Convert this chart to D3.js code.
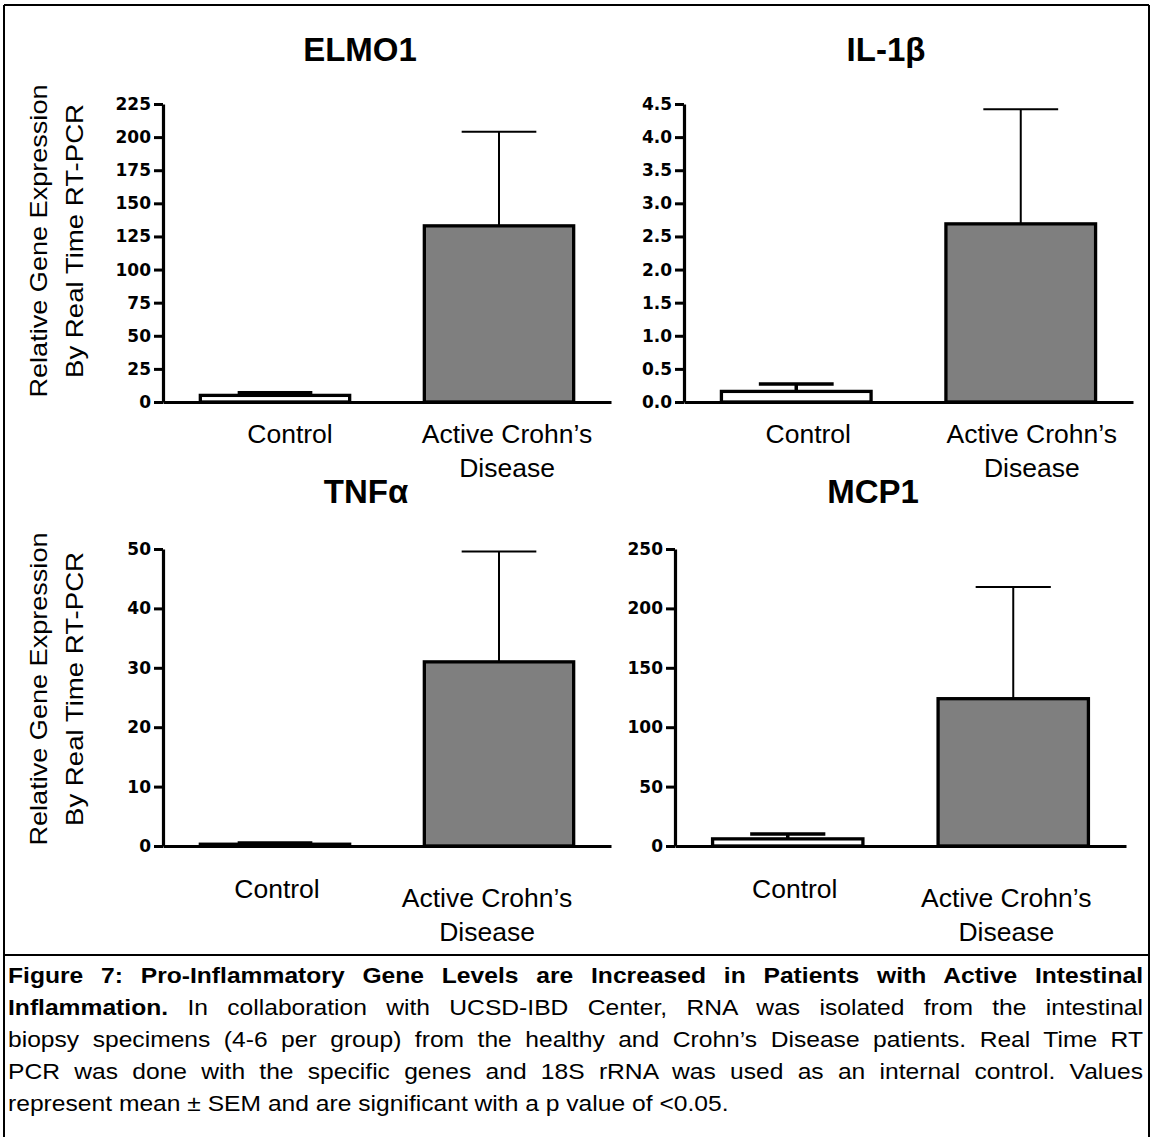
<!DOCTYPE html>
<html>
<head>
<meta charset="utf-8">
<script src="https://cdn.jsdelivr.net/npm/d3@7"></script>
<style>
  html, body { margin: 0; padding: 0; background: #ffffff; }
  svg { display: block; }
</style>
</head>
<body>
<script>
// ---------------- DATA ----------------
const categories = ["Control", "Active Crohn’s Disease"];
const genes = ["ELMO1", "IL-1β", "TNFα", "MCP1"];

const elmo1Mean = [5, 133];
const elmo1Sem  = [2, 71];
const il1bMean  = [0.16, 2.69];
const il1bSem   = [0.11, 1.73];
const tnfaMean  = [0.3, 31];
const tnfaSem   = [0.2, 18.6];
const mcp1Mean  = [6, 124];
const mcp1Sem   = [4, 94];

const elmo1Ticks = [0, 25, 50, 75, 100, 125, 150, 175, 200, 225];
const il1bTicks  = [0, 0.5, 1.0, 1.5, 2.0, 2.5, 3.0, 3.5, 4.0, 4.5];
const tnfaTicks  = [0, 10, 20, 30, 40, 50];
const mcp1Ticks  = [0, 50, 100, 150, 200, 250];

const yLabelLines = ["Relative Gene Expression", "By Real Time RT-PCR"];

const captionLines = [
  [{b: true, t: "Figure 7: Pro-Inflammatory Gene Levels are Increased in Patients with Active Intestinal"}],
  [{b: true, t: "Inflammation."}, {b: false, t: " In collaboration with UCSD-IBD Center, RNA was isolated from the intestinal"}],
  [{b: false, t: "biopsy specimens (4-6 per group) from the healthy and Crohn’s Disease patients. Real Time RT"}],
  [{b: false, t: "PCR was done with the specific genes and 18S rRNA was used as an internal control. Values"}],
  [{b: false, t: "represent mean ± SEM and are significant with a p value of <0.05."}]
];

// ---------------- LAYOUT ----------------
const W = 1153, H = 1137;
const panels = [
  {gene: 0, mean: elmo1Mean, sem: elmo1Sem, ticks: elmo1Ticks, fmt: d3.format("d"),
   ax: 163, ex: 611, yt: 104, yb: 402, tcx: 360, tby: 61, ylab: true, ylabCy: 241,
   lab: [{dx: 15, by: 443}, {dx: 8, by: 443}]},
  {gene: 1, mean: il1bMean, sem: il1bSem, ticks: il1bTicks, fmt: d3.format(".1f"),
   ax: 684, ex: 1133, yt: 104, yb: 402, tcx: 886, tby: 61, ylab: false,
   lab: [{dx: 12, by: 443}, {dx: 11, by: 443}]},
  {gene: 2, mean: tnfaMean, sem: tnfaSem, ticks: tnfaTicks, fmt: d3.format("d"),
   ax: 163, ex: 611, yt: 549, yb: 846, tcx: 366, tby: 503, ylab: true, ylabCy: 689,
   lab: [{dx: 2, by: 898}, {dx: -12, by: 907}]},
  {gene: 3, mean: mcp1Mean, sem: mcp1Sem, ticks: mcp1Ticks, fmt: d3.format("d"),
   ax: 675, ex: 1126, yt: 549, yb: 846, tcx: 873, tby: 503, ylab: false,
   lab: [{dx: 7, by: 898}, {dx: -7, by: 907}]}
];

const svg = d3.select("body").append("svg")
  .attr("width", W).attr("height", H)
  .attr("viewBox", `0 0 ${W} ${H}`);

svg.append("rect").attr("width", W).attr("height", H).attr("fill", "#ffffff");

// frame
const frame = svg.append("g").attr("stroke", "#000").attr("stroke-width", 2).attr("fill", "none");
frame.append("line").attr("x1", 4).attr("x2", 1149).attr("y1", 5).attr("y2", 5);
frame.append("line").attr("x1", 4).attr("x2", 4).attr("y1", 5).attr("y2", H);
frame.append("line").attr("x1", 1149).attr("x2", 1149).attr("y1", 5).attr("y2", H);
frame.append("line").attr("x1", 4).attr("x2", 1149).attr("y1", 955).attr("y2", 955);

const sans = "'Liberation Sans', Arial, Helvetica, sans-serif";

panels.forEach(p => {
  const g = svg.append("g");
  const x = d3.scaleBand().domain(categories).range([p.ax, p.ex])
    .paddingInner(1/3).paddingOuter(1/6);
  const y = d3.scaleLinear().domain([p.ticks[0], p.ticks[p.ticks.length - 1]]).range([p.yb, p.yt]);
  const bw = x.bandwidth();

  // error bars (upper only)
  categories.forEach((c, i) => {
    const cx = x(c) + bw / 2;
    const top = y(p.mean[i] + p.sem[i]);
    const sw = i === 0 ? 3.5 : 2;
    g.append("line").attr("x1", cx).attr("x2", cx)
      .attr("y1", y(p.mean[i])).attr("y2", top)
      .attr("stroke", "#000").attr("stroke-width", sw);
    g.append("line").attr("x1", cx - bw / 4).attr("x2", cx + bw / 4)
      .attr("y1", top).attr("y2", top)
      .attr("stroke", "#000").attr("stroke-width", sw);
  });

  // bars
  g.selectAll("rect.bar").data(categories).join("rect")
    .attr("class", "bar")
    .attr("x", c => x(c))
    .attr("width", bw)
    .attr("y", (c, i) => y(p.mean[i]))
    .attr("height", (c, i) => p.yb - y(p.mean[i]))
    .attr("fill", (c, i) => i === 0 ? "#ffffff" : "#7f7f7f")
    .attr("stroke", "#000").attr("stroke-width", 3.3);

  // y axis
  const ya = g.append("g").attr("transform", `translate(${p.ax},0)`)
    .call(d3.axisLeft(y).tickValues(p.ticks).tickFormat(p.fmt).tickSize(9).tickPadding(3).tickSizeOuter(0));
  ya.select(".domain").attr("stroke-width", 3.2).attr("stroke", "#000");
  ya.selectAll(".tick line").attr("stroke-width", 3).attr("stroke", "#000");
  ya.selectAll(".tick text").attr("font-family", "'DejaVu Sans', sans-serif")
    .attr("font-weight", "bold").attr("font-size", 17).attr("fill", "#000");

  // x axis baseline
  const xa = g.append("g").attr("transform", `translate(0,${p.yb})`)
    .call(d3.axisBottom(x).tickSize(0).tickSizeOuter(0).tickFormat(""));
  xa.select(".domain").attr("stroke-width", 3.2).attr("stroke", "#000");

  // category labels
  categories.forEach((c, i) => {
    const cx = x(c) + bw / 2 + p.lab[i].dx;
    const t = g.append("text").attr("text-anchor", "middle")
      .attr("font-family", sans).attr("font-size", 26.5).attr("fill", "#000");
    if (i === 0) {
      t.attr("x", cx).attr("y", p.lab[i].by).text(c);
    } else {
      const parts = ["Active Crohn’s", "Disease"];
      parts.forEach((s, k) => {
        t.append("tspan").attr("x", cx).attr("y", p.lab[i].by + k * 34).text(s);
      });
    }
  });

  // title
  g.append("text").attr("x", p.tcx).attr("y", p.tby).attr("text-anchor", "middle")
    .attr("font-family", sans).attr("font-weight", "bold").attr("font-size", 33)
    .attr("fill", "#000").text(genes[p.gene]);

  // y label
  if (p.ylab) {
    const lens = [313, 274];
    yLabelLines.forEach((s, k) => {
      g.append("text")
        .attr("transform", `translate(${47 + k * 36},${p.ylabCy}) rotate(-90)`)
        .attr("text-anchor", "middle")
        .attr("font-family", sans).attr("font-size", 24).attr("fill", "#000")
        .attr("textLength", lens[k]).attr("lengthAdjust", "spacingAndGlyphs")
        .text(s);
    });
  }
});

// caption (text in the reference is slightly widened, justified)
const capLeft = 8, capRight = 1143, capScale = 1.12;
const capBase = [983, 1015, 1047, 1079, 1111];
const capG = svg.append("g").attr("transform", `translate(${capLeft},0) scale(${capScale},1)`);
const capWidth = (capRight - capLeft) / capScale;
captionLines.forEach((segs, li) => {
  const t = capG.append("text").attr("x", 0).attr("y", capBase[li])
    .attr("font-family", sans).attr("font-size", 22).attr("fill", "#000");
  segs.forEach(s => {
    t.append("tspan").attr("font-weight", s.b ? "bold" : "normal").text(s.t);
  });
  if (li < captionLines.length - 1) {
    const natural = t.node().getComputedTextLength();
    const spaces = segs.map(s => s.t).join("").split(" ").length - 1;
    const ws = (capWidth - natural) / spaces;
    t.attr("word-spacing", ws);
  }
});
</script>
</body>
</html>
